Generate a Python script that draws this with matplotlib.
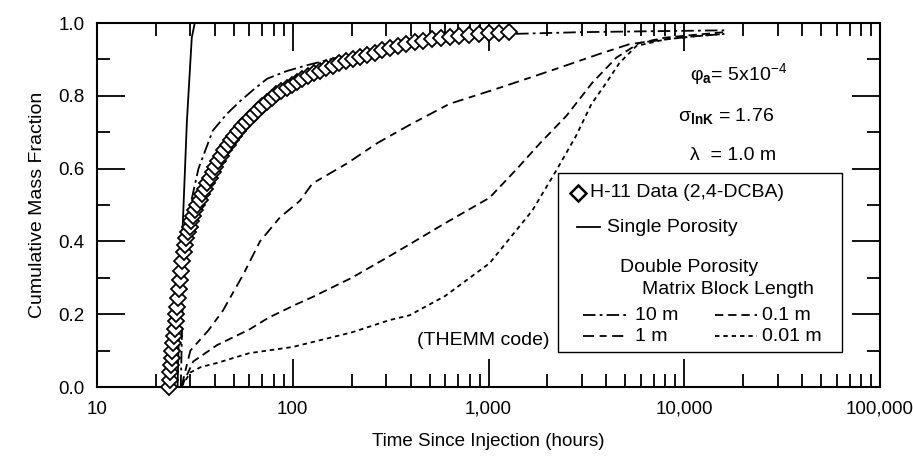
import matplotlib.pyplot as plt
from matplotlib.patches import Rectangle
from matplotlib.ticker import FixedLocator, LogLocator, NullFormatter, MultipleLocator

plt.rcParams["font.family"] = ["Liberation Sans", "DejaVu Sans"]
plt.rcParams["mathtext.fontset"] = "custom"
plt.rcParams["mathtext.rm"] = "Liberation Sans"
plt.rcParams["mathtext.it"] = "Liberation Sans:italic"
plt.rcParams["mathtext.bf"] = "Liberation Sans:bold"
plt.rcParams["lines.scale_dashes"] = False

# H-11 field data (2,4-DCBA)
h11_time = [23.3, 23.5, 23.7, 23.9, 24.1, 24.3, 24.5, 24.7, 24.9, 25.2, 25.4, 25.7,
            26.0, 26.3, 26.6, 26.9, 27.3, 27.7, 28.1, 28.6, 29.1, 29.7, 30.3, 31.0,
            31.8, 32.6, 33.5, 34.4, 35.5, 36.6, 37.8, 39.0, 40.3, 41.7, 43.2, 44.8,
            46.5, 48.3, 50.3, 52.5, 55.0, 57.5, 60.3, 63.3, 66.5, 70.0, 74.0, 78.0,
            82.5, 87.5, 93.0, 99.0, 105, 112, 120, 129, 138, 148, 160, 173, 187, 203,
            220, 240, 262, 287, 315, 345, 380, 420, 465, 515, 570, 635, 710, 795, 890,
            1000, 1130, 1280]
h11_frac = [0.00, 0.02, 0.04, 0.06, 0.08, 0.10, 0.12, 0.14, 0.16, 0.18, 0.20, 0.22,
            0.245, 0.27, 0.295, 0.32, 0.345, 0.37, 0.39, 0.41, 0.425, 0.44, 0.455, 0.47,
            0.485, 0.50, 0.515, 0.53, 0.545, 0.56, 0.575, 0.59, 0.605, 0.62, 0.635, 0.65,
            0.665, 0.678, 0.69, 0.703, 0.716, 0.728, 0.74, 0.751, 0.762, 0.773, 0.784, 0.794,
            0.804, 0.813, 0.822, 0.831, 0.839, 0.847, 0.855, 0.862, 0.869, 0.876, 0.883,
            0.889, 0.895, 0.901, 0.907, 0.913, 0.919, 0.925, 0.931, 0.937, 0.942, 0.947,
            0.951, 0.955, 0.959, 0.962, 0.965, 0.968, 0.970, 0.972, 0.974, 0.976]

# single porosity model
single_time = [25.8, 26.5, 27.5, 28.8, 30.5, 31.6, 100000]
single_frac = [0.0, 0.25, 0.46, 0.73, 0.96, 1.0, 1.0]

# double porosity models, matrix block length
dp10_time = [26.8, 27.3, 27.8, 29.8, 33, 39, 46, 54, 64, 74, 93, 120, 200, 400, 800,
             1300, 3000, 8000, 16000]
dp10_frac = [0.0, 0.2, 0.42, 0.493, 0.60, 0.704, 0.75, 0.786, 0.82, 0.847, 0.868, 0.885,
             0.915, 0.950, 0.965, 0.970, 0.975, 0.978, 0.98]

dp1_time = [27, 30, 37, 44, 56, 68, 86, 109, 126, 189, 270, 395, 632, 1138, 2050, 3680,
            5250, 8000, 12000, 16000]
dp1_frac = [0.0, 0.10, 0.155, 0.21, 0.31, 0.40, 0.466, 0.512, 0.559, 0.614, 0.67, 0.72,
            0.778, 0.822, 0.868, 0.915, 0.942, 0.955, 0.965, 0.97]

dp01_time = [27, 31, 41, 60, 75, 105, 126, 200, 313, 395, 600, 1012, 1400, 1820, 2500,
             3390, 4500, 5880, 8000, 11000, 16000]
dp01_frac = [0.0, 0.07, 0.115, 0.158, 0.19, 0.228, 0.247, 0.30, 0.36, 0.392, 0.45, 0.52,
             0.60, 0.668, 0.745, 0.836, 0.905, 0.945, 0.96, 0.967, 0.975]

dp001_time = [27, 30, 34, 41, 60, 100, 200, 313, 395, 600, 1012, 1675, 2220, 2800, 3360,
              4000, 4660, 5690, 8000, 11000, 16000]
dp001_frac = [0.0, 0.04, 0.055, 0.066, 0.093, 0.11, 0.15, 0.184, 0.197, 0.25, 0.34, 0.485,
              0.595, 0.69, 0.778, 0.836, 0.89, 0.937, 0.955, 0.963, 0.97]

x_ticks = [10, 100, 1000, 10000, 100000]
x_labels = ["10", "100", "1,000", "10,000", "100,000"]
y_ticks = [0.0, 0.2, 0.4, 0.6, 0.8, 1.0]
y_labels = ["0.0", "0.2", "0.4", "0.6", "0.8", "1.0"]

ls_10m = (0, (9, 3, 2, 3))
ls_1m = (0, (8, 4, 5, 4))
ls_01m = (0, (6, 3.5))
ls_001m = (0, (3.2, 2.8))
lw = 1.3
fs = 14

fig, ax = plt.subplots(figsize=(9.13, 4.61), dpi=100)
fig.subplots_adjust(left=0.1062, right=0.9639, bottom=0.1605, top=0.950)

ax.plot(single_time, single_frac, color="black", lw=lw)
ax.plot(dp10_time, dp10_frac, color="black", lw=lw, ls=ls_10m)
ax.plot(dp1_time, dp1_frac, color="black", lw=lw, ls=ls_1m)
ax.plot(dp01_time, dp01_frac, color="black", lw=lw, ls=ls_01m)
ax.plot(dp001_time, dp001_frac, color="black", lw=lw, ls=ls_001m)
ax.plot(h11_time, h11_frac, ls="none", marker="D", ms=8.5, mfc="white", mec="black",
        mew=1.3, clip_on=False, zorder=5)

ax.set_xscale("log")
ax.set_xlim(10, 100000)
ax.set_ylim(0, 1)
ax.xaxis.set_major_locator(FixedLocator(x_ticks))
ax.set_xticklabels(x_labels)
ax.xaxis.set_minor_locator(LogLocator(base=10, subs=range(2, 10)))
ax.xaxis.set_minor_formatter(NullFormatter())
ax.set_yticks(y_ticks)
ax.set_yticklabels(y_labels)
ax.yaxis.set_minor_locator(MultipleLocator(0.1))

ax.tick_params(which="both", direction="in", top=True, right=True, width=1.3, labelsize=13.5)
ax.tick_params(which="major", length=20)
ax.tick_params(which="minor", length=9.5)
ax.tick_params(axis="x", pad=10)
ax.tick_params(axis="y", pad=9)
for s in ax.spines.values():
    s.set_linewidth(1.5)

ax.set_xlabel("Time Since Injection (hours)", fontsize=13.5, labelpad=11)
ax.set_ylabel("Cumulative Mass Fraction", fontsize=14, labelpad=9)

# parameter annotations
ax.text(0.757, 0.860, r"φ$_{\mathbf{a}}$= 5x10$^{-4}$", transform=ax.transAxes,
        fontsize=fs, va="center")
ax.text(0.742, 0.745, r"σ$_{\mathbf{lnK}}$ = 1.76", transform=ax.transAxes,
        fontsize=fs, va="center")
ax.text(0.757, 0.636, "λ  = 1.0 m", transform=ax.transAxes, fontsize=fs, va="center")
ax.text(0.4087, 0.1288, "(THEMM code)", transform=ax.transAxes, fontsize=fs, va="center")

# legend box drawn by hand
tr = ax.transAxes
ax.add_patch(Rectangle((0.589, 0.096), 0.3625, 0.493, transform=tr, fc="white",
                       ec="black", lw=1.0, zorder=6))
ax.plot([0.6143], [0.5342], transform=tr, marker="D", ms=8, mfc="white", mec="black",
        mew=1.8, ls="none", zorder=7, clip_on=False)
ax.text(0.6296, 0.5342, "H-11 Data (2,4-DCBA)", transform=tr, fontsize=fs,
        va="center", zorder=7)
ax.plot([0.613, 0.642], [0.4384, 0.4384], transform=tr, color="black", lw=lw,
        zorder=7, clip_on=False)
ax.text(0.651, 0.4384, "Single Porosity", transform=tr, fontsize=fs, va="center", zorder=7)
ax.text(0.668, 0.3288, "Double Porosity", transform=tr, fontsize=fs, va="center", zorder=7)
ax.text(0.696, 0.2685, "Matrix Block Length", transform=tr, fontsize=fs, va="center",
        zorder=7)
legend_rows = [
    (0.6207, 0.6782, 0.687, 0.1973, ls_10m, "10 m"),
    (0.6207, 0.6782, 0.687, 0.1397, ls_1m, "1 m"),
    (0.789, 0.843, 0.849, 0.1973, ls_01m, "0.1 m"),
    (0.789, 0.843, 0.849, 0.1397, ls_001m, "0.01 m"),
]
for x0, x1, xt, y, style, label in legend_rows:
    ax.plot([x0, x1], [y, y], transform=tr, color="black", lw=lw, ls=style, zorder=7,
            clip_on=False)
    ax.text(xt, y, label, transform=tr, fontsize=fs, va="center", zorder=7)

fig.savefig("out.png", dpi=100)
